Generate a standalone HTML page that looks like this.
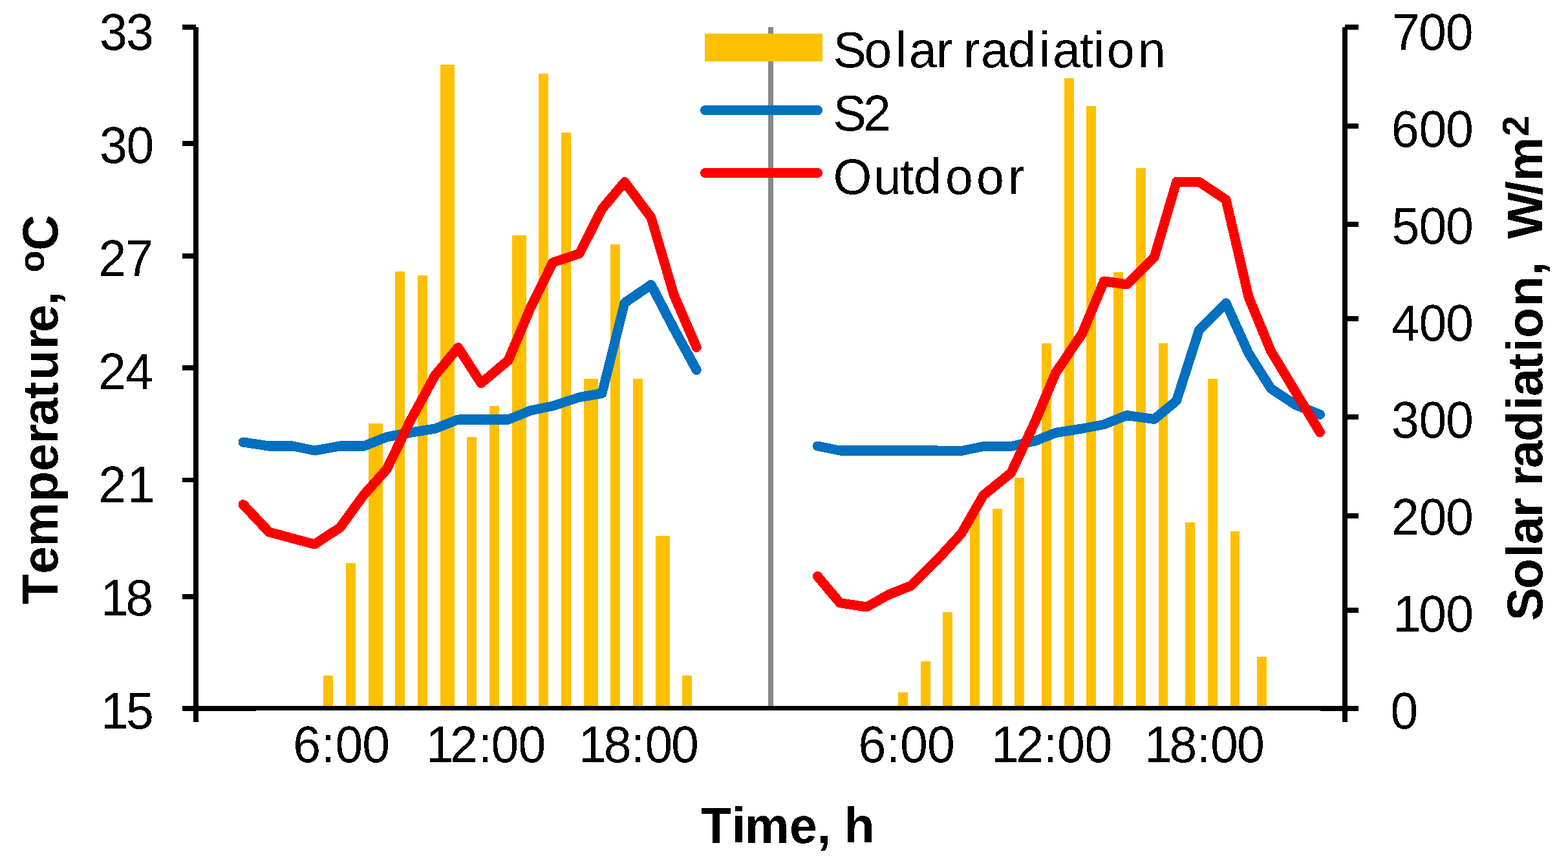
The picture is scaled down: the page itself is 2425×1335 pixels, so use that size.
<!DOCTYPE html><html><head><meta charset="utf-8"><title>Temperature and solar radiation chart</title>
<style>html,body{margin:0;padding:0;background:#fff;overflow:hidden;}svg{display:block;}text{font-family:'Liberation Sans', Arial, sans-serif;fill:#000;font-kerning:none;}</style></head><body>
<svg width="2425" height="1335" viewBox="0 0 2425 1335">
<rect x="0" y="0" width="2425" height="1335" fill="#fff"/>
<defs><filter id="bin" x="0" y="0" width="100%" height="100%" filterUnits="userSpaceOnUse" color-interpolation-filters="sRGB"><feComponentTransfer><feFuncA type="discrete" tableValues="0 1"/></feComponentTransfer></filter></defs>
<g fill="#FFC000" shape-rendering="crispEdges">
<rect x="500" y="1045" width="15" height="47"/>
<rect x="535" y="870.5" width="15" height="221.5"/>
<rect x="570" y="655" width="22" height="437"/>
<rect x="611" y="420" width="15" height="672"/>
<rect x="646" y="426" width="15" height="666"/>
<rect x="681" y="100" width="22" height="992"/>
<rect x="722" y="676" width="15" height="416"/>
<rect x="757" y="628" width="15" height="464"/>
<rect x="792" y="364" width="22" height="728"/>
<rect x="833" y="114" width="15" height="978"/>
<rect x="868" y="205" width="15" height="887"/>
<rect x="903" y="586" width="22" height="506"/>
<rect x="944" y="378" width="15" height="714"/>
<rect x="979" y="586" width="15" height="506"/>
<rect x="1014" y="829" width="22" height="263"/>
<rect x="1055" y="1045" width="15" height="47"/>
<rect x="1389" y="1071" width="15" height="21"/>
<rect x="1424" y="1023" width="15" height="69"/>
<rect x="1458" y="947" width="15" height="145"/>
<rect x="1500" y="794" width="15" height="298"/>
<rect x="1535" y="787" width="15" height="305"/>
<rect x="1569" y="739" width="15" height="353"/>
<rect x="1611" y="530.5" width="15" height="561.5"/>
<rect x="1646" y="121" width="15" height="971"/>
<rect x="1680" y="164" width="15" height="928"/>
<rect x="1722" y="420.5" width="15" height="671.5"/>
<rect x="1757" y="260" width="15" height="832"/>
<rect x="1792" y="530.5" width="14" height="561.5"/>
<rect x="1833" y="808" width="15" height="284"/>
<rect x="1868" y="586" width="15" height="506"/>
<rect x="1903" y="822" width="14" height="270"/>
<rect x="1944" y="1016" width="15" height="76"/>
</g>
<rect x="1188" y="42" width="8" height="1050" fill="#888888" shape-rendering="crispEdges"/>
<g filter="url(#bin)">
<polyline points="376,684 416,690 453,690 486.5,697 526,690 563,690 598,676 636,669 673,663 708.5,649 744,649 786,649 820.5,635 855,628 896,614.5 931,608.5 966,468.5 1007,440.5 1042,508 1077.2,572.3" fill="none" stroke="#0070C0" stroke-width="15" stroke-linejoin="round" stroke-linecap="round"/>
<polyline points="1264.3,690 1299,697 1340.5,697 1374,697 1409,697 1449.5,697 1487,697.5 1521,690.5 1563.5,690.5 1601,682 1632.5,669.5 1673.5,663 1707.5,656.5 1742.5,642.5 1785,648.5 1819.5,620 1854.5,510.5 1896,468.8 1931,546.5 1965.5,601 2003,626 2041.5,641.3" fill="none" stroke="#0070C0" stroke-width="15" stroke-linejoin="round" stroke-linecap="round"/>
<polyline points="376,780.5 416,823 453,833 486.5,842 526,816 563,765 598,726 636,648 673,580.3 708.5,537.6 744,592.8 786,557.5 820.5,476 855,406 896,392.3 931,323.3 966,281.5 1007,336.5 1042,455.7 1077.2,537.2" fill="none" stroke="#FF0000" stroke-width="15" stroke-linejoin="round" stroke-linecap="round"/>
<polyline points="1264.3,891.5 1299,932.7 1340.5,939 1374,920 1409,906 1449.5,866 1487,825 1521,766 1563.5,731.7 1601,652 1632.5,577 1673.5,516 1707.5,435 1742.5,440 1785,398.5 1819.5,281.5 1854.5,281.5 1896,309 1931,459.4 1965.5,543 2003,605.3 2041.5,669" fill="none" stroke="#FF0000" stroke-width="15" stroke-linejoin="round" stroke-linecap="round"/>
</g>
<g fill="#000" shape-rendering="crispEdges">
<rect x="299" y="42" width="8" height="1075"/>
<rect x="2076" y="42" width="8" height="1075"/>
<rect x="282" y="1092" width="1819" height="7"/>
<rect x="282" y="1099" width="114" height="1"/>
<rect x="2042" y="1099" width="59" height="1"/>
<rect x="282" y="38" width="21" height="8"/>
<rect x="282" y="218" width="21" height="8"/>
<rect x="282" y="392" width="21" height="8"/>
<rect x="282" y="565" width="21" height="8"/>
<rect x="282" y="739" width="21" height="7"/>
<rect x="282" y="919" width="21" height="8"/>
<rect x="2080" y="38" width="21" height="8"/>
<rect x="2080" y="191" width="21" height="8"/>
<rect x="2080" y="343" width="21" height="8"/>
<rect x="2080" y="489" width="21" height="8"/>
<rect x="2080" y="641" width="21" height="8"/>
<rect x="2080" y="794" width="21" height="8"/>
<rect x="2080" y="940" width="21" height="8"/>
</g>
<g filter="url(#bin)">
<text x="154 195" y="74.04" transform="scale(1,1.04)" font-size="77">33</text>
<text x="154 195.4" y="242.31" transform="scale(1,1.04)" font-size="77">30</text>
<text x="152.6 194.4" y="410.58" transform="scale(1,1.04)" font-size="77">27</text>
<text x="152 194.1" y="578.85" transform="scale(1,1.04)" font-size="77">24</text>
<text x="152.5 197" y="746.73" transform="scale(1,1.04)" font-size="77">21</text>
<text x="156.1 194.3" y="915.10" transform="scale(1,1.04)" font-size="77">18</text>
<text x="156.1 194.9" y="1083.65" transform="scale(1,1.04)" font-size="77">15</text>
<text x="2153 2194 2235.8" y="74.04" transform="scale(1,1.04)" font-size="77">700</text>
<text x="2151.7 2194.5 2236" y="218.75" transform="scale(1,1.04)" font-size="77">600</text>
<text x="2152.6 2194.5 2236" y="362.98" transform="scale(1,1.04)" font-size="77">500</text>
<text x="2151.9 2194.5 2236" y="506.73" transform="scale(1,1.04)" font-size="77">400</text>
<text x="2152 2194.5 2236" y="650.96" transform="scale(1,1.04)" font-size="77">300</text>
<text x="2152 2194.5 2236" y="795.19" transform="scale(1,1.04)" font-size="77">200</text>
<text x="2154.6 2194 2236.2" y="939.23" transform="scale(1,1.04)" font-size="77">100</text>
<text x="2150.4" y="1083.65" transform="scale(1,1.04)" font-size="77">0</text>
<text x="453.3 496.9 518.4 560.3" y="1133.46" transform="scale(1,1.04)" font-size="77">6:00</text>
<text x="658.7 695.9 739.4 759.5 801.5" y="1133.46" transform="scale(1,1.04)" font-size="77">12:00</text>
<text x="894.9 933.8 975.9 997.4 1038" y="1133.46" transform="scale(1,1.04)" font-size="77">18:00</text>
<text x="1327.5 1370.6 1392 1434" y="1133.46" transform="scale(1,1.04)" font-size="77">6:00</text>
<text x="1532.7 1571.4 1613.4 1635 1677.4" y="1133.46" transform="scale(1,1.04)" font-size="77">12:00</text>
<text x="1769.9 1808.6 1850.9 1872 1912.9" y="1133.46" transform="scale(1,1.04)" font-size="77">18:00</text>
<rect x="1090" y="52" width="182" height="43" fill="#FFC000" shape-rendering="crispEdges"/>
<line x1="1090.5" y1="170.5" x2="1264.5" y2="170.5" stroke="#0070C0" stroke-width="15" stroke-linecap="round"/>
<line x1="1090.5" y1="267.5" x2="1264.5" y2="267.5" stroke="#FF0000" stroke-width="15" stroke-linecap="round"/>
<text x="1288.6 1336.6 1384.7 1405.8 1447.9 1470 1489.9 1516.9 1559 1606.7 1627.9 1669.6 1690.7 1711.7 1759.8" y="103.5" font-size="77">Solar radiation</text>
<text x="1288.6 1335.1" y="201.6" font-size="77">S2</text>
<text x="1288.5 1350.9 1391.9 1413 1461.9 1510 1558.9" y="299.7" font-size="77">Outdoor</text>
<text x="1083.9 1131.7 1151.9 1221 1263.7 1285 1305.5" y="1304" font-size="77" font-weight="bold">Time, h</text>
<text transform="rotate(-90)" x="-934.7 -887.8 -845.7 -776.1 -729.1 -686 -658.3 -616.4 -588.2 -539.9 -514 -472.1 -450.7" y="89" font-size="77" font-weight="bold">Temperature, <tspan x="-421.6" dy="-21" font-size="56">o</tspan><tspan x="-387.8" dy="21">C</tspan></text>
<text transform="rotate(-90)" x="-960.3 -911.2 -862.4 -842.1 -800.1 -776 -751.8 -724.1 -683.1 -634.3 -613 -571.9 -544.5 -523 -474.1 -426.1" y="2385" font-size="77" font-weight="bold">Solar radiation,<tspan x="-404.7 -369.7 -301.75 -280.6"> W/m</tspan><tspan x="-210.8" dy="-21" font-size="57">2</tspan></text>
</g>
</svg></body></html>
